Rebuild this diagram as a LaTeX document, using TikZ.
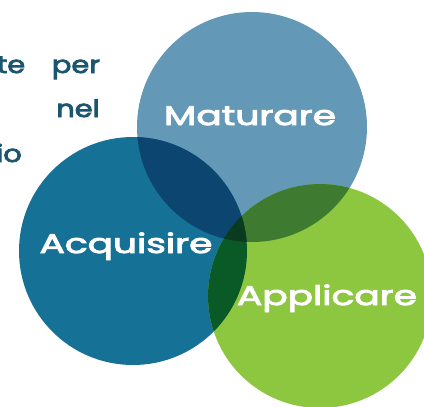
\documentclass[tikz,border=0pt]{standalone}
\usepackage{fontspec}
\setmainfont{Poppins}
\newfontfamily\roundfont[FakeBold=3]{Poppins}
\usepackage{tikz}
\usetikzlibrary{positioning}
\definecolor{matblue}{HTML}{6399B7}
\definecolor{acqblue}{HTML}{167196}
\definecolor{appgreen}{HTML}{8DC63F}
\definecolor{mablue}{HTML}{0C4670}
\definecolor{aagreen}{HTML}{0A5A28}
\definecolor{mpgreen}{HTML}{3E7A30}
\definecolor{allgreen}{HTML}{0A3A20}
\definecolor{bodytxt}{HTML}{1B5670}
\tikzset{
  label/.style={white, font=\fontsize{27}{27}\roundfont, anchor=base, xscale=1.39},
  side/.style={bodytxt, font=\fontsize{24}{24}\roundfont, anchor=base, xscale=1.2}
}

\begin{document}
\begin{tikzpicture}[x=1pt,y=-1pt]
        \useasboundingbox (0,0) rectangle (424,407);
        \def\rM{115}\def\rA{114}\def\rP{112}
        % the three circles
        \fill[matblue]  (252,127) circle (\rM);
        \fill[acqblue]  (133,251) circle (\rA);
        \fill[appgreen] (320,296) circle (\rP);
        % overlaps
        \begin{scope}
            \clip (252,127) circle (\rM);
            \fill[mablue]  (133,251) circle (\rA);
            \fill[mpgreen] (320,296) circle (\rP);
            \clip (133,251) circle (\rA);
            \fill[allgreen] (320,296) circle (\rP);
        \end{scope}
        \begin{scope}
            \clip (133,251) circle (\rA);
            \clip (320,296) circle (\rP);
            \fill[aagreen] (0,0) rectangle (424,407);
            \clip (252,127) circle (\rM);
            \fill[allgreen] (0,0) rectangle (424,407);
        \end{scope}
        % labels
        \node[label] (mat) at (250,125) {Maturare};
        \node[label] (acq) at (126,253) {Acquisire};
        \node[label] (app) at (327,305) {Applicare};
        % cut off text on the left
        \node[side] (t1) at (11,73) {te};
        \node[side] (t2) at (76,73) {per};
        \node[side] (t3) at (78,117) {nel};
        \node[side] (t4) at (9,162) {io};
\end{tikzpicture}
\end{document}
